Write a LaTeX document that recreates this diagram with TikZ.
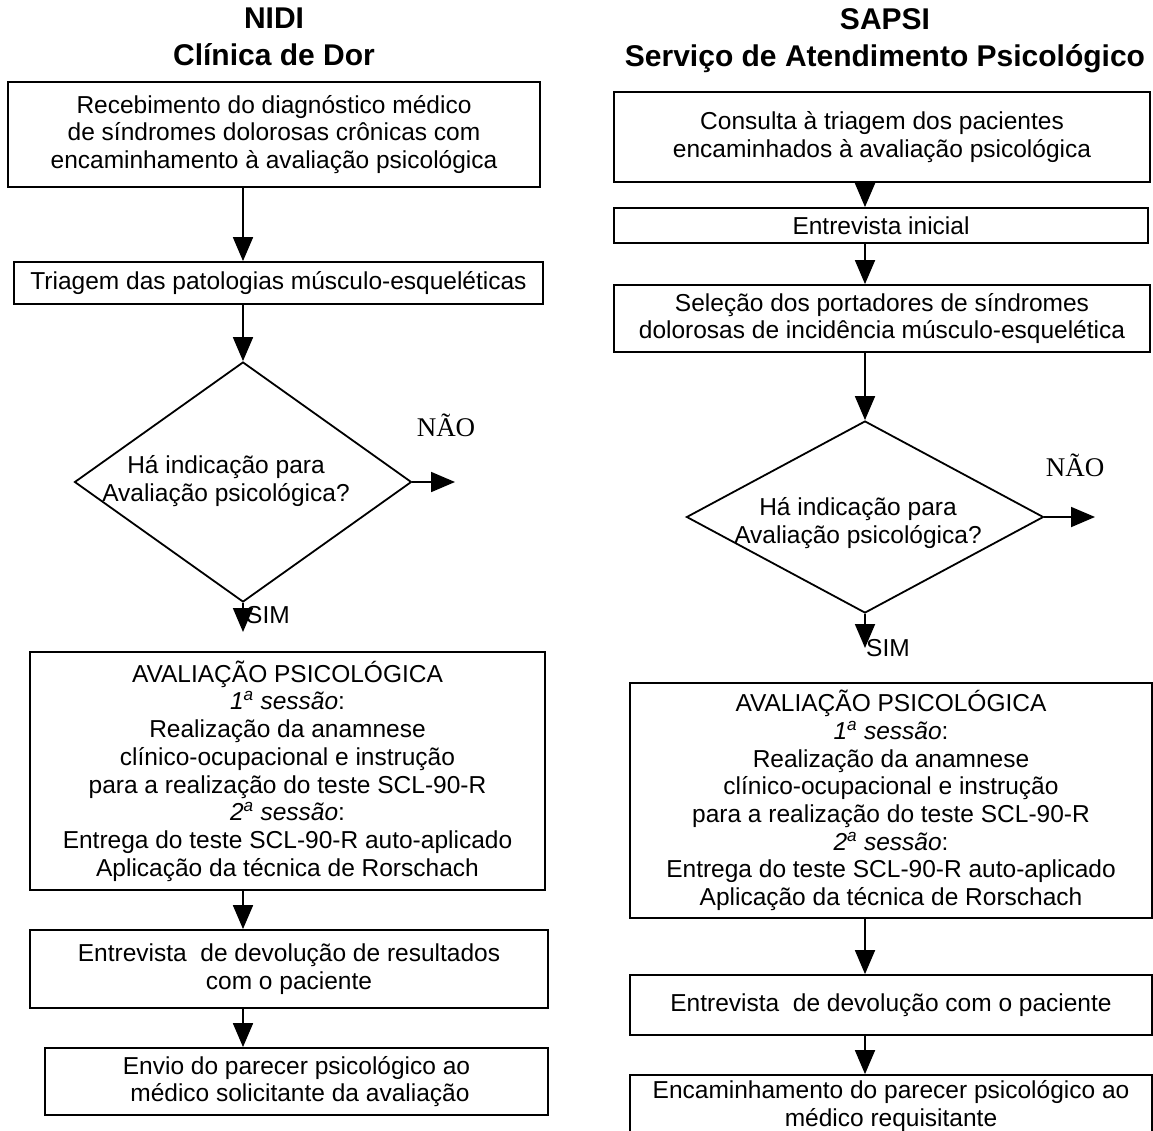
\documentclass[tikz,border=0pt]{standalone}
\usepackage{fontspec}
\setmainfont{Liberation Sans}
\newfontfamily\timesnao{Liberation Serif}
\usetikzlibrary{shapes.geometric,arrows.meta}

\begin{document}
\begin{tikzpicture}[x=1pt,y=-1pt,line width=1.8pt,
    every node/.style={font=\fontsize{24.5}{27.7}\selectfont},
    arr/.style={-{Triangle[length=24pt,width=20pt]}}]
    \tikzstyle{etapa}=[rectangle,draw=black,align=center,inner sep=0pt]
    \tikzstyle{decisao}=[diamond,draw=black,inner sep=0pt]
    \tikzstyle{titulo}=[align=center,font=\bfseries\fontsize{30}{37}\selectfont]
    \tikzstyle{nao}=[font=\timesnao\fontsize{27}{30}\selectfont]
    \useasboundingbox (0,0) rectangle (1153,1130);

    % NIDI
    \node[titulo] (Ltit) at (274,37) {NIDI\\Clínica de Dor};
    \node[etapa,minimum width=532pt,minimum height=105pt] (LA) at (274,134.5)
        {Recebimento do diagnóstico médico\\de síndromes dolorosas crônicas com\\encaminhamento à avaliação psicológica};
    \node[etapa,minimum width=529pt,minimum height=42pt] (LB) at (278.5,283)
        {Triagem das patologias músculo-esqueléticas};
    \node[decisao,minimum width=337pt,minimum height=240pt] (LD) at (243,482) {};
    \node[align=center] (LDq) at (226,481) {Há indicação para\\Avaliação psicológica?};
    \coordinate (Lnao) at (455,482);
    \coordinate (Lsim) at (243,632);
    \node[nao] (LnaoT) at (446,425) {NÃO};
    \node (LsimT) at (268,615) {SIM};
    \node[etapa,minimum width=515pt,minimum height=238pt] (LE) at (287.5,771)
        {AVALIAÇÃO PSICOLÓGICA\\\textit{1\textsuperscript{a} sessão}:\\Realização da anamnese\\clínico-ocupacional e instrução\\para a realização do teste SCL-90-R\\\textit{2\textsuperscript{a} sessão}:\\Entrega do teste SCL-90-R auto-aplicado\\Aplicação da técnica de Rorschach};
    \node[etapa,minimum width=518pt,minimum height=78pt] (LF) at (289,969)
        {Entrevista~ de devolução de resultados\\com o paciente};
    \node[etapa,minimum width=503pt,minimum height=67pt] (LG) at (296.5,1081.5)
        {Envio do parecer psicológico ao\\~médico solicitante da avaliação};

    % SAPSI
    \node[titulo] (Rtit) at (885,41) {SAPSI\\Serviço de Atendimento Psicológico};
    \node[etapa,minimum width=536pt,minimum height=90pt] (RA) at (882,137)
        {Consulta à triagem dos pacientes\\encaminhados à avaliação psicológica};
    \node[etapa,minimum width=534pt,minimum height=35pt] (RB) at (881,225.5)
        {Entrevista inicial};
    \node[etapa,minimum width=536pt,minimum height=67pt] (RC) at (882,318.5)
        {Seleção dos portadores de síndromes\\dolorosas de incidência músculo-esquelética};
    \node[decisao,minimum width=357pt,minimum height=192pt] (RD) at (865,517) {};
    \node[align=center] (RDq) at (858,523) {Há indicação para\\Avaliação psicológica?};
    \coordinate (Rnao) at (1095,517);
    \coordinate (Rsim) at (865,648);
    \node[nao] (RnaoT) at (1075,465) {NÃO};
    \node (RsimT) at (888,648) {SIM};
    \node[etapa,minimum width=522pt,minimum height=235pt] (RE) at (891,800.5)
        {AVALIAÇÃO PSICOLÓGICA\\\textit{1\textsuperscript{a} sessão}:\\Realização da anamnese\\clínico-ocupacional e instrução\\para a realização do teste SCL-90-R\\\textit{2\textsuperscript{a} sessão}:\\Entrega do teste SCL-90-R auto-aplicado\\Aplicação da técnica de Rorschach};
    \node[etapa,minimum width=522pt,minimum height=60pt] (RF) at (891,1005)
        {Entrevista~ de devolução com o paciente};
    \node[etapa,minimum width=522pt,minimum height=62pt] (RG) at (891,1106)
        {Encaminhamento do parecer psicológico ao\\médico requisitante};

    \foreach \from/\to/\col in {LA/LB/LD, LB/LD/LD, LE/LF/LD, LF/LG/LD,
                                RA/RB/RD, RB/RC/RD, RC/RD/RD, RE/RF/RD, RF/RG/RD}
        \draw[arr] (\from.south -| \col) -- (\to.north -| \col);

    \draw[arr] (LD.east) -- (Lnao);
    \draw[arr] (LD.south) -- (Lsim);
    \draw[arr] (RD.east) -- (Rnao);
    \draw[arr] (RD.south) -- (Rsim);
\end{tikzpicture}
\end{document}
